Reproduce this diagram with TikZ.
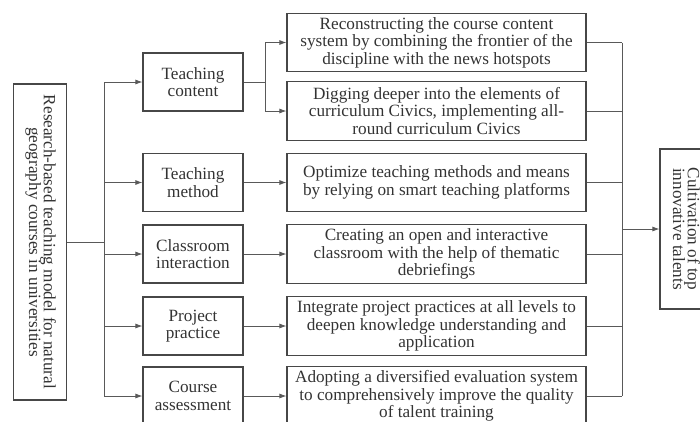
\documentclass[tikz,border=0pt]{standalone}
\usepackage{fontspec}
\setmainfont{Liberation Serif}
\usetikzlibrary{arrows.meta}
\begin{document}
\begin{tikzpicture}[x=1pt,y=-1pt,
  box/.style={draw=black!72, line width=1.1pt, align=center, text=black!80,
    inner sep=0pt, font=\fontsize{17.2}{17.6}\selectfont},
  midbox/.style={box, minimum width=100pt, minimum height=58pt},
  widebox/.style={box, minimum width=299pt, minimum height=58.5pt},
  link/.style={draw=black!65, line width=0.85pt},
  arr/.style={link, -{Latex[length=7pt,width=5pt]}}]
\clip (0,0) rectangle (700,421);

% source box on the left, text running downwards
\node[box, minimum width=53pt, minimum height=316pt] (L) at (40,242)
  {\rotatebox{-90}{\begin{tabular}{@{}c@{}}Research-based teaching model for natural\\[-3pt] geography courses in universities\end{tabular}}};

% five teaching dimensions
\node[midbox] (TC) at (193,82)    {Teaching\\content};
\node[midbox] (TM) at (193,182.5) {Teaching\\method};
\node[midbox] (CI) at (193,254)   {Classroom\\interaction};
\node[midbox] (PP) at (193,326)   {Project\\practice};
\node[midbox] (CA) at (193,396)   {Course\\assessment};

% measures for each dimension
\node[widebox] (R1) at (436.5,42.5) {Reconstructing the course content\\system by combining the frontier of the\\discipline with the news hotspots};
\node[widebox] (R2) at (436.5,111)  {Digging deeper into the elements of\\curriculum Civics, implementing all-\\round curriculum Civics};
\node[widebox] (R3) at (436.5,182.5){Optimize teaching methods and means\\by relying on smart teaching platforms};
\node[widebox] (R4) at (436.5,254)  {Creating an open and interactive\\classroom with the help of thematic\\debriefings};
\node[widebox] (R5) at (436.5,326)  {Integrate project practices at all levels to\\deepen knowledge understanding and\\application};
\node[widebox] (R6) at (436.5,396)  {Adopting a diversified evaluation system\\to comprehensively improve the quality\\of talent training};

% outcome box on the right
\node[box, minimum width=48pt, minimum height=160pt] (F) at (684,229)
  {\rotatebox{-90}{\begin{tabular}{@{}c@{}}Cultivation of top\\[-3pt] innovative talents\end{tabular}}};

% bus positions
\coordinate (tx) at (104,0);
\coordinate (bx) at (265,0);
\coordinate (cx) at (622,0);

% left trunk feeding the five dimensions
\draw[link] (L.east) -- (L.east -| tx);
\draw[link] (tx |- TC.west) -- (tx |- CA.west);
\foreach \n in {TC,TM,CI,PP,CA}
  \draw[arr] (tx |- \n.west) -- (\n.west);

% teaching content splits into two measures
\draw[link] (TC.east) -- (TC.east -| bx);
\draw[link] (bx |- R1.west) -- (bx |- R2.west);
\draw[arr] (bx |- R1.west) -- (R1.west);
\draw[arr] (bx |- R2.west) -- (R2.west);

% remaining dimensions lead straight to their measures
\draw[arr] (TM.east) -- (R3.west);
\draw[arr] (CI.east) -- (R4.west);
\draw[arr] (PP.east) -- (R5.west);
\draw[arr] (CA.east) -- (R6.west);

% collector on the right
\foreach \n in {R1,R2,R3,R4,R5,R6}
  \draw[link] (\n.east) -- (\n.east -| cx);
\draw[link] (cx |- R1.east) -- (cx |- R6.east);
\draw[arr] (cx |- F.west) -- (F.west);
\end{tikzpicture}
\end{document}
